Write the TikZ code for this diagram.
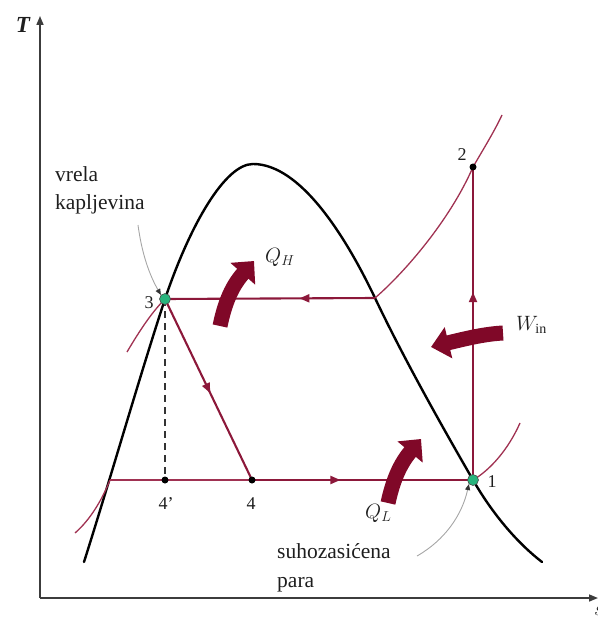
\documentclass[tikz,border=0pt]{standalone}
\usepackage{fontspec}
\setmainfont{Liberation Serif}
\usetikzlibrary{arrows.meta,decorations.markings}
\definecolor{cyc}{RGB}{140,24,58}
\definecolor{fatc}{RGB}{128,8,40}
\definecolor{isoc}{RGB}{160,50,82}
\definecolor{dotg}{RGB}{40,180,125}
\definecolor{axc}{RGB}{60,60,60}
\definecolor{txt}{RGB}{30,30,30}
\tikzset{
  axis/.style={axc,line width=1.6pt,-{Triangle[length=9pt,width=7pt]}},
  dome/.style={black,line width=2.4pt,line cap=round},
  cycline/.style={cyc,line width=2.1pt},
  isoline/.style={isoc,line width=1.3pt},
  midarrow/.style={postaction={decorate},decoration={markings,mark=at position #1 with {\arrow{Triangle[length=10pt,width=8pt]}}}},
  fat/.style={fatc,line width=15pt,-{Triangle[length=17pt,width=32pt]}},
  bdot/.style={circle,fill=black,inner sep=0pt,minimum size=7pt},
  gdot/.style={circle,fill=dotg,draw=black!70,line width=0.6pt,inner sep=0pt,minimum size=11pt},
  leader/.style={gray!70,line width=0.9pt,-{Triangle[length=6pt,width=5pt,color=black!80]}},
  lbl/.style={txt,font=\fontsize{21.5}{28}\selectfont,inner sep=0pt,anchor=base west},
  mlbl/.style={txt,font=\fontsize{20}{24}\selectfont,inner sep=0pt,anchor=base west},
  num/.style={txt,font=\fontsize{18}{20}\selectfont,inner sep=0pt}
}
\begin{document}
\begin{tikzpicture}[x=1pt,y=-1pt]
\useasboundingbox (0,0) rectangle (597,620);
% axes
\coordinate (o) at (40,598);
\coordinate (ty) at (40,16);
\coordinate (sx) at (598,598);
\draw[axis] (o) -- (ty);
\draw[axis] (o) -- (sx);
\node[txt,font=\fontsize{23}{24}\selectfont\bfseries\itshape,inner sep=0pt] (tl) at (23,25) {T};
\node[txt,font=\fontsize{21}{24}\selectfont,inner sep=0pt,anchor=north west] (sl) at (594,606) {$s$};
% dome
\draw[dome] (84,562) .. controls (110,480) and (140,375) .. (165,299)
  .. controls (190,225) and (225,164) .. (253,164)
  .. controls (300,164) and (345,235) .. (375,298)
  .. controls (405,361) and (443,428) .. (473,480)
  .. controls (495,518) and (520,545) .. (542,562);
% coordinates
\coordinate (c3r) at (375,298);
\coordinate (c4l) at (110,480);
\coordinate (iu) at (502,115);
\coordinate (il3) at (127,352);
\coordinate (il4) at (75,533);
\coordinate (ir1) at (520,423);
% isobars
\draw[isoline] (c3r) .. controls (405,272) and (450,220) .. (473,167) .. controls (484,148) and (494,132) .. (iu);
\draw[isoline] (il3) .. controls (140,330) and (152,312) .. (165,299);
\draw[isoline] (il4) .. controls (90,520) and (102,500) .. (c4l);
\draw[isoline] (473,480) .. controls (490,470) and (508,450) .. (ir1);
\draw[isoline] (c4l) -- (252,480);
% dashed
\draw[black!80,line width=1.4pt,dash pattern=on 7pt off 5pt] (165,299) -- (165,480);
% cycle
\draw[cycline,midarrow=0.6] (473,480) -- (473,167);
\draw[cycline,midarrow=0.36] (c3r) -- (165,299);
\draw[cycline,midarrow=0.52] (165,299) -- (252,480);
\draw[cycline,midarrow=0.4] (252,480) -- (473,480);
% fat arrows
\draw[fat] (220,326) .. controls (225,302) and (232,286) .. (254,261);
\draw[fat] (388,503) .. controls (393,480) and (400,464) .. (421,439);
\draw[fatc,line width=15pt,-{Triangle[length=18pt,width=31pt]}] (503,333) .. controls (485,334) and (468,338) .. (431,347);
% points
\node[gdot] (p1) at (473,480) {};
\node[bdot] (p2) at (473,167) {};
\node[gdot] (p3) at (165,299) {};
\node[bdot] (p4) at (252,480) {};
\node[bdot] (p4p) at (165,480) {};
% point labels
\node[num] (l1) at (492,482) {1};
\node[num] (l2) at (462,155) {2};
\node[num] (l3) at (149,303) {3};
\node[num] (l4) at (251,504) {4};
\node[num] (l4p) at (166,504) {4'};
% heat/work labels
\node[mlbl] (qh) at (265,262) {$Q_H$};
\node[mlbl] (ql) at (365,518) {$Q_L$};
\node[mlbl] (win) at (516,330) {$W_{\mathrm{in}}$};
% annotations
\node[lbl] (vk1) at (55,182) {vrela};
\node[lbl] (vk2) at (55,210) {kapljevina};
\node[lbl] (sp1) at (277,558) {suhozasićena};
\node[lbl] (sp2) at (277,587) {para};
\coordinate (vkl) at (138,225);
\coordinate (spl) at (417,556);
\draw[leader] (vkl) .. controls (142,255) and (150,276) .. (p3.north west);
\draw[leader] (spl) .. controls (445,540) and (462,515) .. (p1.south west);
\end{tikzpicture}
\end{document}
